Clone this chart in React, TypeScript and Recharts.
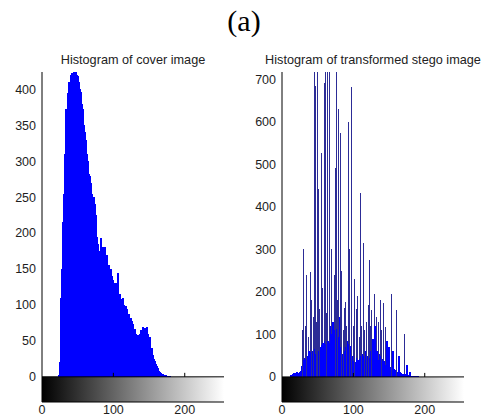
import React from "react";
import { ComposedChart, Bar, XAxis, YAxis, ReferenceArea, ReferenceLine } from "recharts";

// grey level counts, index = grey level 0..255
const coverCounts = [
  0, 0, 0, 0, 0, 0, 0, 0, 0, 0, 0, 0, 0, 0, 0, 0,
  0, 0, 0, 0, 0, 0, 0, 0, 3, 20, 60, 110, 150, 190, 215, 255,
  310, 370, 372, 368, 375, 395, 410, 380, 415, 420, 422, 422, 420, 424, 421, 418,
  424, 420, 415, 418, 410, 400, 396, 385, 380, 372, 365, 350, 340, 330, 325, 310,
  300, 290, 282, 280, 265, 270, 255, 250, 245, 250, 240, 225, 205, 195, 185, 160,
  145, 175, 160, 193, 170, 180, 165, 175, 180, 150, 160, 170, 150, 145, 155, 140,
  150, 135, 140, 134, 120, 130, 97, 130, 125, 115, 145, 120, 110, 115, 100, 108,
  95, 110, 95, 100, 92, 98, 88, 95, 85, 80, 88, 75, 82, 72, 78, 68,
  74, 62, 66, 50, 60, 45, 55, 58, 40, 60, 50, 65, 48, 70, 55, 62,
  50, 68, 55, 70, 45, 60, 52, 55, 48, 35, 40, 30, 28, 25, 22, 20,
  18, 15, 12, 10, 8, 7, 6, 5, 4, 4, 3, 2, 3, 1, 2, 1,
  0, 1, 1, 0, 1, 0, 0, 0, 0, 0, 0, 0, 0, 0, 0, 0,
  0, 0, 0, 0, 0, 0, 0, 0, 0, 0, 0, 0, 0, 0, 0, 0,
  0, 0, 0, 0, 0, 0, 0, 0, 0, 0, 0, 0, 0, 0, 0, 0,
  0, 0, 0, 0, 0, 0, 0, 0, 0, 0, 0, 0, 0, 0, 0, 0,
  0, 0, 0, 0, 0, 0, 0, 0, 0, 0, 0, 0, 0, 0, 0, 0,
];

const stegoCounts = [
  0, 0, 0, 0, 0, 0, 0, 0, 0, 0, 0, 0, 0, 4, 0, 8,
  6, 10, 4, 9, 7, 12, 5, 10, 8, 11, 6, 14, 25, 110, 301, 40,
  45, 120, 42, 239, 48, 95, 60, 52, 246, 58, 180, 62, 140, 760, 65, 685,
  55, 130, 780, 443, 60, 160, 70, 526, 75, 210, 80, 690, 85, 800, 78, 150,
  820, 85, 770, 80, 120, 300, 100, 130, 105, 240, 110, 491, 790, 112, 180, 631,
  95, 140, 573, 70, 250, 55, 110, 161, 60, 176, 70, 120, 85, 600, 78, 300,
  72, 140, 681, 50, 120, 38, 230, 35, 160, 45, 190, 40, 95, 42, 432, 50,
  120, 55, 314, 48, 110, 60, 45, 130, 50, 170, 275, 45, 120, 60, 157, 65,
  90, 196, 85, 120, 140, 60, 50, 130, 40, 55, 181, 48, 110, 42, 173, 38,
  30, 117, 28, 85, 30, 22, 70, 20, 24, 18, 196, 20, 60, 18, 12, 16,
  14, 157, 12, 10, 50, 11, 7, 9, 6, 8, 5, 102, 6, 4, 5, 27,
  3, 4, 2, 3, 12, 2, 1, 3, 0, 2, 0, 3, 0, 1, 2, 0,
  0, 0, 0, 0, 0, 0, 0, 0, 0, 0, 0, 0, 0, 0, 0, 0,
  0, 0, 0, 0, 0, 0, 0, 0, 0, 0, 0, 0, 0, 0, 0, 0,
  0, 0, 0, 0, 0, 0, 0, 0, 0, 0, 0, 0, 0, 0, 0, 0,
  0, 0, 0, 0, 0, 0, 0, 0, 0, 0, 0, 0, 0, 0, 0, 0,
];

const xTicks = [0, 100, 200];
const coverYTicks = [0, 50, 100, 150, 200, 250, 300, 350, 400];
const stegoYTicks = [0, 100, 200, 300, 400, 500, 600, 700];

const FONT = "'Liberation Sans', Arial, Helvetica, sans-serif";
const PLOT_TOP = 72;
const PLOT_H = 330;
const CHART_H = 417;
const AXIS_W = 42;
const PLOT_W = 182;

const tickStyle = { fontSize: 12.5, fill: "#1e1e1e", fontFamily: FONT };

function Histogram({ id, left, width, title, counts, yTicks, yDomain, barWidth, stems }) {
  const [yMin, yMax] = yDomain;
  const zeroY = PLOT_TOP + (PLOT_H * yMax) / (yMax - yMin);
  const data = counts.map((count, level) => {
    const prev = counts[level - 1] ?? 0;
    const next = counts[level + 1] ?? 0;
    const spike = stems && count > 90 && count > 1.6 * Math.min(prev, next);
    return { level, count, spike };
  });

  const barShape = (p) => {
    const w = p.payload.spike ? 1 : barWidth;
    return (
      <rect
        x={p.x + p.width / 2 - w / 2}
        y={p.y}
        width={w}
        height={Math.max(p.height, 0)}
        fill={p.payload.spike ? "#2c2c96" : "#0000ff"}
        shapeRendering="crispEdges"
      />
    );
  };

  const xTick = ({ x, y, payload }) => (
    <g>
      <text x={x} y={y} dy={8.3} textAnchor="middle" {...tickStyle}>{payload.value}</text>
      {payload.value > 0 && (
        <line x1={x} x2={x} y1={zeroY} y2={zeroY - 4} stroke="#000" />
      )}
    </g>
  );

  return (
    <div style={{ position: "absolute", left, top: 0 }}>
      <div style={{
        position: "absolute", left: AXIS_W - 60, top: 53, width: PLOT_W + 120, textAlign: "center",
        fontFamily: FONT, fontSize: 12.7, lineHeight: "14px", color: "#222", whiteSpace: "nowrap",
      }}>
        {title}
      </div>
      <ComposedChart
        width={width}
        height={CHART_H}
        data={data}
        margin={{ top: PLOT_TOP, right: width - AXIS_W - PLOT_W, bottom: 0, left: 0 }}
      >
        <defs>
          <linearGradient id={`grey-${id}`} x1="0" y1="0" x2="1" y2="0">
            <stop offset="0%" stopColor="#000" />
            <stop offset="100%" stopColor="#fff" />
          </linearGradient>
        </defs>
        <XAxis
          dataKey="level" type="number" domain={[0, 255]} ticks={xTicks}
          height={15} tickSize={0} tickMargin={4} tick={xTick}
          axisLine={{ stroke: "#000" }} tickLine={false} allowDataOverflow
        />
        <XAxis
          xAxisId="top" orientation="top" dataKey="level" type="number" domain={[0, 255]}
          ticks={xTicks} mirror height={0} tick={false} tickSize={4}
          tickLine={{ stroke: "#000" }} axisLine={{ stroke: "#000" }}
        />
        <YAxis
          type="number" domain={yDomain} ticks={yTicks} width={AXIS_W}
          tickSize={0} tickMargin={6} tick={tickStyle} tickLine={false}
          axisLine={{ stroke: "#000" }} allowDataOverflow interval={0}
        />
        <YAxis
          yAxisId="lt" type="number" domain={yDomain} ticks={yTicks} mirror width={0}
          tick={false} tickSize={4} tickLine={{ stroke: "#000" }} axisLine={false}
          allowDataOverflow interval={0}
        />
        <YAxis
          yAxisId="rt" orientation="right" type="number" domain={yDomain}
          ticks={[...yTicks, yMin / 2]} mirror width={0} tick={false} tickSize={4}
          tickLine={{ stroke: "#000" }} axisLine={{ stroke: "#000" }}
          allowDataOverflow interval={0}
        />
        <ReferenceArea
          x1={0} x2={255} y1={yMin} y2={0}
          fill={`url(#grey-${id})`} fillOpacity={1} stroke="none"
        />
        <Bar dataKey="count" isAnimationActive={false} shape={barShape} />
        <ReferenceLine y={0} stroke="#000" />
      </ComposedChart>
    </div>
  );
}

export default function App() {
  return (
    <div style={{ position: "absolute", left: 0, top: 0, width: 488, height: 417, background: "#fff", overflow: "hidden" }}>
      <div style={{
        position: "absolute", left: 0, top: 4, width: 488, textAlign: "center",
        fontFamily: "'Liberation Serif', 'Times New Roman', serif", fontSize: 30, lineHeight: "34px", color: "#000",
      }}>
        (a)
      </div>
      <Histogram
        id="cover" left={0} width={240} title="Histogram of cover image"
        counts={coverCounts} yTicks={coverYTicks} yDomain={[-35, 424]} barWidth={2} stems={false}
      />
      <Histogram
        id="stego" left={240} width={248} title="Histogram of transformed stego image"
        counts={stegoCounts} yTicks={stegoYTicks} yDomain={[-59, 717]} barWidth={2} stems
      />
    </div>
  );
}
